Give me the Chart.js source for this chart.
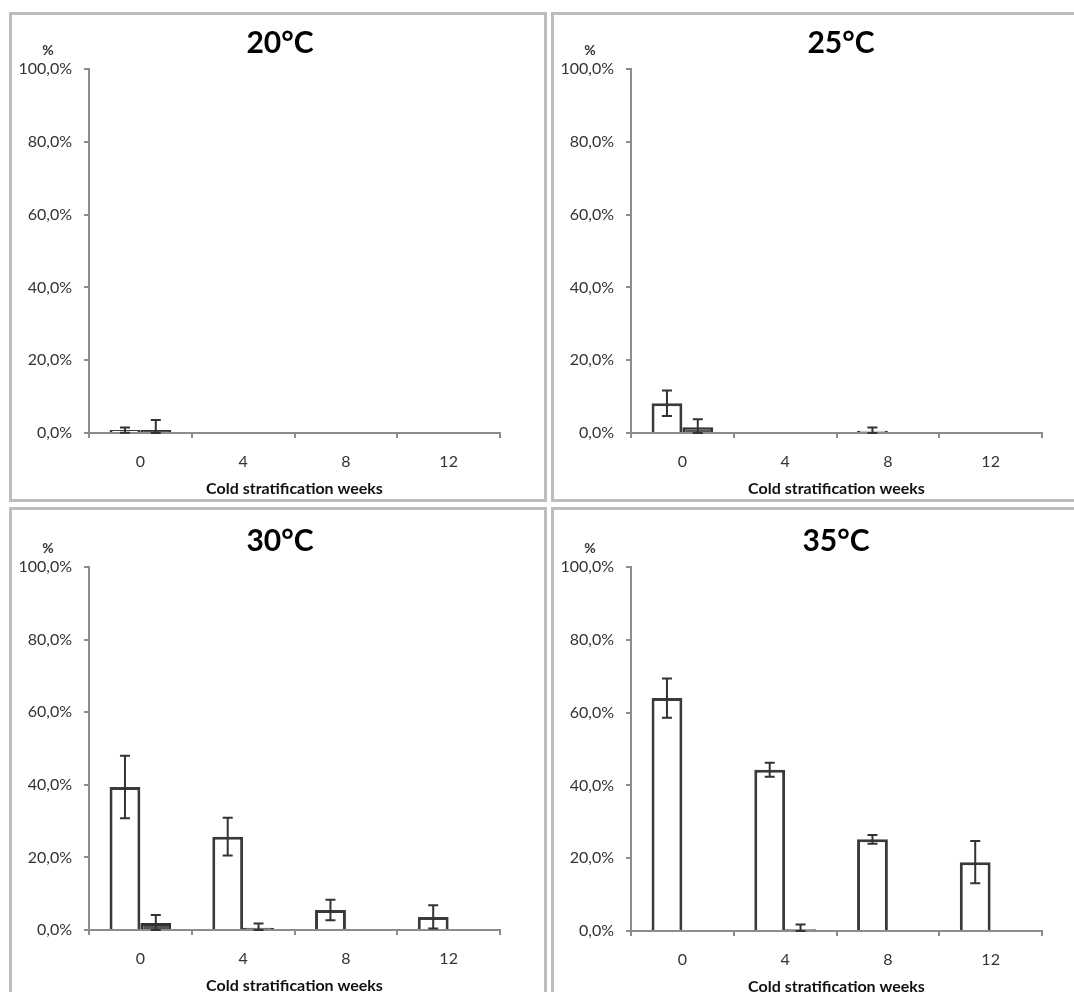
<!DOCTYPE html>
<html>
<head>
<meta charset="utf-8">
<script src="https://cdn.jsdelivr.net/npm/chart.js@4"></script>
<style>
  body { margin: 0; background: #fff; width: 1074px; height: 992px; overflow: hidden; position: relative; }
  .panel { position: absolute; border: 3px solid #bdbdbd; box-sizing: border-box; overflow: hidden; background: #fff; }
  .panel canvas { position: absolute; left: 0; top: 0; }
</style>
</head>
<body>
<div class="panel" style="left:9px;top:12px;width:538px;height:490px"><canvas id="c20" width="532" height="494"></canvas></div>
<div class="panel" style="left:551px;top:12px;width:538px;height:490px"><canvas id="c25" width="532" height="494"></canvas></div>
<div class="panel" style="left:9px;top:507px;width:538px;height:500px"><canvas id="c30" width="532" height="494"></canvas></div>
<div class="panel" style="left:551px;top:507px;width:538px;height:500px"><canvas id="c35" width="532" height="494"></canvas></div>
<script>
// data (germination %, mean and error)
const weeks = ['0', '4', '8', '12'];
const yTicks = [0, 20, 40, 60, 80, 100];

const s1_20 = [0.8, 0, 0, 0];
const e1_20 = [0.7, 0, 0, 0];
const s2_20 = [0.8, 0, 0, 0];
const e2_20 = [2.8, 0, 0, 0];

const s1_25 = [8.2, 0, 0.6, 0];
const e1_25 = [3.5, 0, 0.9, 0];
const s2_25 = [1.6, 0, 0, 0];
const e2_25 = [2.2, 0, 0, 0];

const s1_30 = [39.4, 25.7, 5.5, 3.6];
const e1_30 = [8.6, 5.2, 2.8, 3.2];
const s2_30 = [1.9, 0.6, 0, 0];
const e2_30 = [2.2, 1.2, 0, 0];

const s1_35 = [64.0, 44.3, 25.2, 18.9];
const e1_35 = [5.4, 1.9, 1.2, 5.8];
const s2_35 = [0, 0.5, 0, 0];
const e2_35 = [0, 1.3, 0, 0];

Chart.defaults.font.family = "Lato, 'Open Sans', sans-serif";
Chart.defaults.color = '#333';

const axisGray = '#8c8c8c';

// error bars drawn on top of the bars
const errorBars = {
  id: 'errorBars',
  afterDatasetsDraw(chart) {
    const ctx = chart.ctx;
    const y = chart.scales.y;
    ctx.save();
    ctx.strokeStyle = '#333';
    ctx.lineWidth = 2;
    chart.data.datasets.forEach((ds, di) => {
      const meta = chart.getDatasetMeta(di);
      meta.data.forEach((bar, i) => {
        const v = ds.data[i];
        const e = ds.errors[i];
        if (!e) return;
        const top = y.getPixelForValue(v + e);
        const bot = y.getPixelForValue(Math.max(v - e, 0));
        const x = bar.x;
        ctx.beginPath();
        ctx.moveTo(x, top); ctx.lineTo(x, bot);
        ctx.moveTo(x - 5, top); ctx.lineTo(x + 5, top);
        ctx.moveTo(x - 5, bot); ctx.lineTo(x + 5, bot);
        ctx.stroke();
      });
    });
    ctx.restore();
  }
};

// panel title and the "%" label above the y axis
const panelText = {
  id: 'panelText',
  afterDraw(chart, args, opts) {
    const ctx = chart.ctx;
    const area = chart.chartArea;
    ctx.save();
    ctx.textAlign = 'center';
    ctx.textBaseline = 'middle';
    ctx.fillStyle = '#000';
    ctx.font = "bold 30px Lato, 'Open Sans', sans-serif";
    ctx.fillText(opts.title, opts.titleX, area.top - 26);
    ctx.fillStyle = '#333';
    ctx.font = "bold 14px Lato, 'Open Sans', sans-serif";
    ctx.fillText('%', 36, area.top - 19);
    ctx.restore();
  }
};

function makeChart(id, title, titleX, s1, e1, s2, e2, top, bottom) {
  const H = 494;
  return new Chart(document.getElementById(id), {
    type: 'bar',
    data: {
      labels: weeks,
      datasets: [
        {
          data: s1,
          errors: e1,
          backgroundColor: '#fff',
          borderColor: '#3a3a3a',
          borderWidth: 3,
          categoryPercentage: 0.6,
          barPercentage: 1.0
        },
        {
          data: s2,
          errors: e2,
          backgroundColor: '#555',
          borderColor: '#333',
          borderWidth: 3,
          categoryPercentage: 0.6,
          barPercentage: 1.0
        }
      ]
    },
    options: {
      responsive: false,
      animation: false,
      layout: { padding: { top: top, bottom: H - bottom - 65, left: 0, right: 44 } },
      plugins: {
        legend: { display: false },
        tooltip: { enabled: false },
        panelText: { title: title, titleX: titleX }
      },
      scales: {
        x: {
          afterFit: (scale) => { scale.height = 65; },
          grid: { drawOnChartArea: false, drawTicks: true, tickLength: 5, color: axisGray, lineWidth: 2 },
          border: { color: axisGray, width: 2 },
          ticks: { padding: 14, font: { size: 16 }, color: '#333' },
          title: {
            display: true,
            text: 'Cold stratification weeks',
            font: { size: 16, weight: 'bold' },
            color: '#111',
            padding: { top: 0, bottom: 0 }
          }
        },
        y: {
          min: 0,
          max: 100,
          afterFit: (scale) => { scale.width = 77; },
          afterBuildTicks: (scale) => { scale.ticks = yTicks.map(v => ({ value: v })); },
          grid: { drawOnChartArea: false, drawTicks: true, tickLength: 5, color: axisGray, lineWidth: 2 },
          border: { color: axisGray, width: 2 },
          ticks: {
            padding: 12,
            font: { size: 16 },
            color: '#333',
            callback: (v) => v.toFixed(1).replace('.', ',') + '%'
          }
        }
      }
    },
    plugins: [errorBars, panelText]
  });
}

makeChart('c20', '20°C', 268, s1_20, e1_20, s2_20, e2_20, 54, 418);
makeChart('c25', '25°C', 287, s1_25, e1_25, s2_25, e2_25, 54, 418);
makeChart('c30', '30°C', 268, s1_30, e1_30, s2_30, e2_30, 57, 420);
makeChart('c35', '35°C', 282, s1_35, e1_35, s2_35, e2_35, 57, 421);
</script>
</body>
</html>
